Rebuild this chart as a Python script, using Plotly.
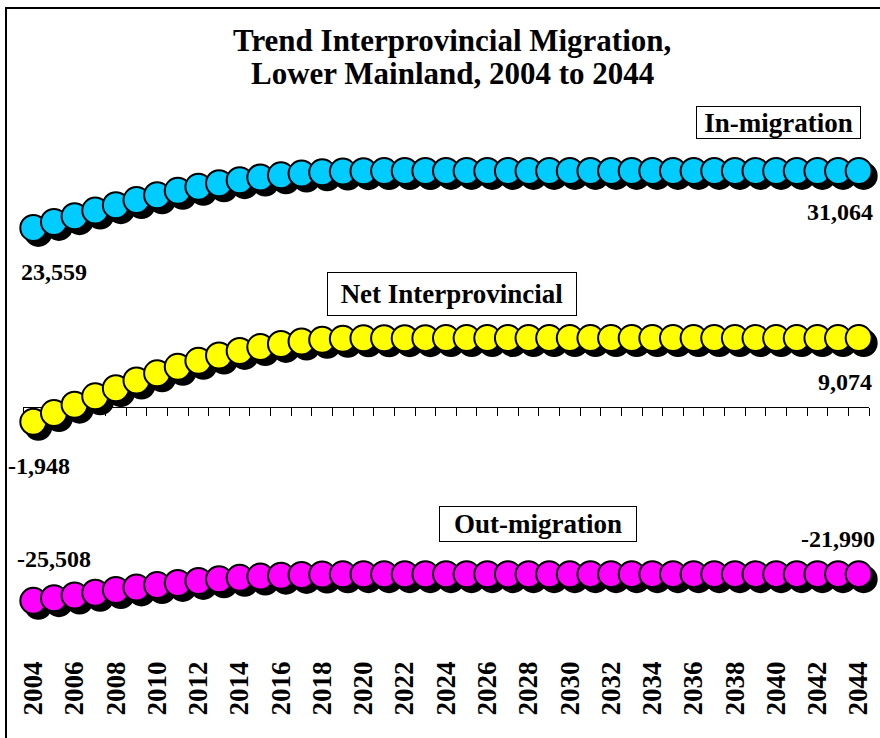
import plotly.graph_objects as go

# ---------------- data ----------------
years = list(range(2004, 2045))
in_migration = [23559, 24350, 25110, 25850, 26560, 27230, 27860, 28440, 28970, 29440,
                29850, 30200, 30490, 30720, 30880, 30980, 31030, 31045, 31052, 31055,
                31057, 31058, 31059, 31060, 31060, 31061, 31061, 31062, 31062, 31062,
                31063, 31063, 31063, 31063, 31064, 31064, 31064, 31064, 31064, 31064,
                31064]
net_migration = [-1948, -800, 310, 1410, 2480, 3490, 4430, 5290, 6080, 6780,
                 7380, 7890, 8300, 8620, 8840, 8970, 9032, 9050, 9059, 9063,
                 9066, 9067, 9068, 9069, 9069, 9070, 9070, 9071, 9071, 9072,
                 9072, 9072, 9073, 9073, 9073, 9074, 9074, 9074, 9074, 9074,
                 9074]
out_migration = [-25508, -25150, -24800, -24440, -24080, -23740, -23430, -23150, -22890, -22660,
                 -22470, -22310, -22190, -22100, -22040, -22010, -21998, -21995, -21993, -21992,
                 -21991, -21991, -21991, -21991, -21991, -21991, -21991, -21990, -21990, -21990,
                 -21990, -21990, -21990, -21990, -21990, -21990, -21990, -21990, -21990, -21990,
                 -21990]
series_names = ["In-migration", "Net Interprovincial", "Out-migration"]
tick_years = years[::2]
tick_labels = [str(y) for y in tick_years]
title_lines = ["Trend Interprovincial Migration,", "Lower Mainland, 2004 to 2044"]

# ---------------- geometry / style ----------------
FIG_W, FIG_H = 880, 738
ML, MR, MT, MB = 23, 6, 8, 78
PW = FIG_W - ML - MR
PH = FIG_H - MT - MB
SHX, SHY = 5, 5                      # shadow offset in px
dx = SHX / PW
dy = SHY / PH
X_RANGE = [years[0] - 0.5, years[-1] + 0.5]
Y_RANGE = [-32630, 52500]
FONT = "Liberation Serif"
colors = ["#00CCFF", "#FFFF00", "#FF00FF"]
MSIZE = 26


def pxx(px):
    return (px - ML) / PW


def pxy(py):
    return (FIG_H - MB - py) / PH


series = [in_migration, net_migration, out_migration]

fig = go.Figure()

# shadows (subplot xy, shifted right/down)
for vals, name in zip(series, series_names):
    fig.add_trace(go.Scatter(
        x=years, y=vals, mode="markers", xaxis="x", yaxis="y",
        marker=dict(size=MSIZE, color="black", line=dict(color="black", width=2)),
        cliponaxis=False, hoverinfo="skip", showlegend=False))

# main markers (subplot x2y2)
for vals, name, c in zip(series, series_names, colors):
    fig.add_trace(go.Scatter(
        x=years, y=vals, mode="markers", name=name, xaxis="x2", yaxis="y2",
        marker=dict(size=MSIZE, color=c, line=dict(color="black", width=2)),
        cliponaxis=False, showlegend=False))

# invisible trace to carry the zero-line axis
fig.add_trace(go.Scatter(x=[years[0]], y=[0], xaxis="x3", yaxis="y2", mode="markers",
                         marker=dict(opacity=0), hoverinfo="skip", showlegend=False))

zero_frac = (0 - Y_RANGE[0]) / (Y_RANGE[1] - Y_RANGE[0])
zero_pos = dy + zero_frac * (1 - dy)

hidden = dict(showgrid=False, zeroline=False, showline=False, showticklabels=False,
              ticks="", automargin=False)

boundaries = [y - 0.5 for y in years] + [years[-1] + 0.5]

fig.update_layout(
    width=FIG_W, height=FIG_H,
    margin=dict(l=ML, r=MR, t=MT, b=MB, pad=0),
    paper_bgcolor="white", plot_bgcolor="rgba(0,0,0,0)",
    hovermode=False,
    font=dict(family=FONT, color="black"),
    xaxis=dict(domain=[dx, 1], range=X_RANGE, anchor="y", **hidden),
    yaxis=dict(domain=[0, 1 - dy], range=Y_RANGE, anchor="x", **hidden),
    xaxis2=dict(domain=[0, 1 - dx], range=X_RANGE, anchor="y2",
                showgrid=False, zeroline=False, showline=False, ticks="",
                tickmode="array", tickvals=tick_years, ticktext=tick_labels,
                tickangle=-90, automargin=False,
                tickfont=dict(family=FONT, size=27, color="black", weight="bold")),
    yaxis2=dict(domain=[dy, 1], range=Y_RANGE, anchor="x2", **hidden),
    xaxis3=dict(overlaying="x2", anchor="free", position=zero_pos, range=X_RANGE,
                side="bottom", showgrid=False, zeroline=False, showline=True,
                linecolor="black", linewidth=1, ticks="outside", ticklen=8,
                tickwidth=1, tickcolor="black", tickmode="array", tickvals=boundaries,
                showticklabels=False, layer="below traces", automargin=False),
)

# frame
fig.add_shape(type="rect", xref="paper", yref="paper",
              x0=pxx(6), y0=pxy(8), x1=pxx(900), y1=pxy(760),
              line=dict(color="black", width=2), fillcolor="rgba(0,0,0,0)", layer="below")

# title
for line, ypx in zip(title_lines, [40, 74]):
    fig.add_annotation(xref="paper", yref="paper", x=pxx(452), y=pxy(ypx),
                       text=line, showarrow=False, xanchor="center", yanchor="middle",
                       font=dict(family=FONT, size=31, color="black", weight="bold"))

# boxed series labels: (center x, center y, width, height)
boxes = [(778, 122, 165, 33), (452, 294, 250, 44), (538, 524, 198, 36)]
for name, (cx, cy, w, h) in zip(series_names, boxes):
    fig.add_annotation(xref="paper", yref="paper", x=pxx(cx), y=pxy(cy),
                       text=name, showarrow=False, xanchor="center", yanchor="middle",
                       width=w - 2, height=h - 2, borderpad=0,
                       bordercolor="black", borderwidth=1, bgcolor="white",
                       font=dict(family=FONT, size=27, color="black", weight="bold"))

# value labels at first / last points: (xshift, yshift) for first and last
label_offsets = [((21, -44), (-19, -41)), ((6, -44), (-14, -44)), ((21, 42), (-21, 35))]
for vals, (off_first, off_last) in zip(series, label_offsets):
    for idx, (xs, ys) in zip([0, -1], [off_first, off_last]):
        fig.add_annotation(xref="x2", yref="y2", x=years[idx], y=vals[idx],
                           text=f"{vals[idx]:,}", showarrow=False,
                           xanchor="center", yanchor="middle", xshift=xs, yshift=ys,
                           font=dict(family=FONT, size=24, color="black", weight="bold"))

fig.write_html("out.html", config={"displayModeBar": False},
               post_script="document.body.style.margin='0';document.body.style.overflow='hidden';")
